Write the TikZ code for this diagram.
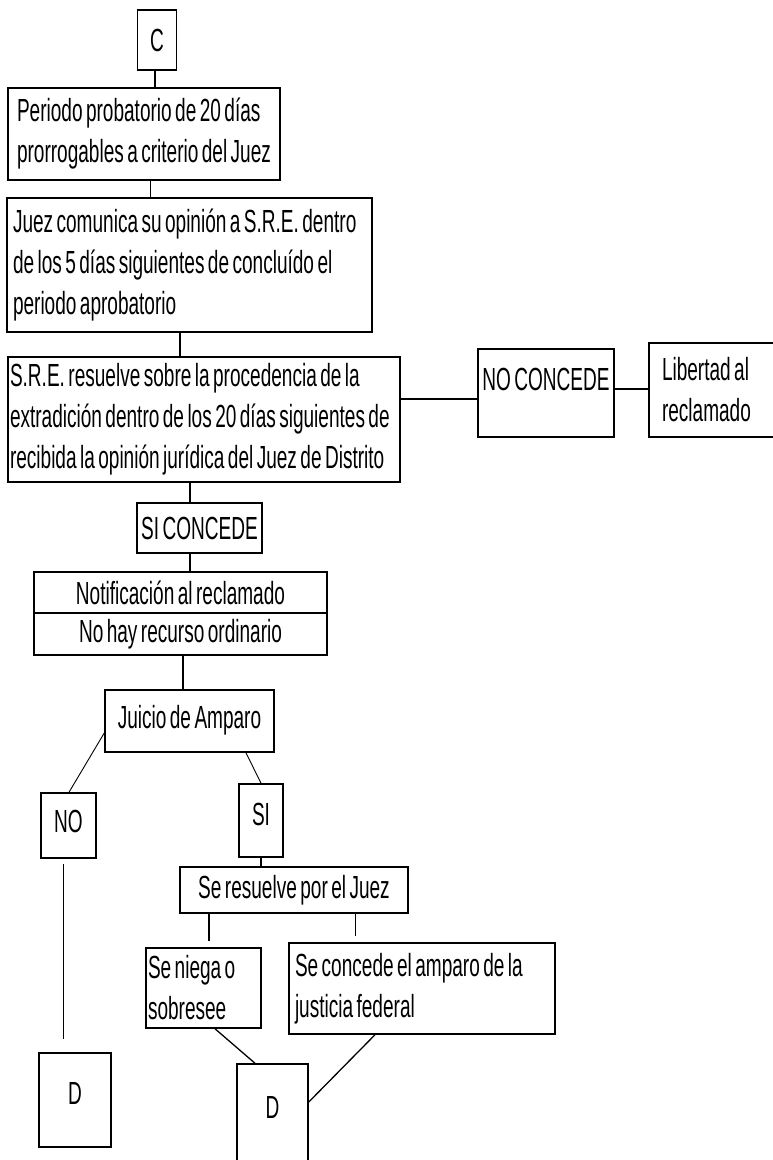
\documentclass[tikz,border=0pt]{standalone}
\usepackage{fontspec}
\newfontfamily\narrowfont{Liberation Sans}[FakeStretch=0.595, WordSpace=0.65]
\begin{document}
\begin{tikzpicture}[x=1pt,y=-1pt,
  box/.style={draw, line width=1.5pt, inner sep=0pt, rectangle,
    font=\narrowfont\fontsize{32}{41}\selectfont},
  lbox/.style={box, align=flush left,
    execute at begin node={\spaceskip=0pt\xspaceskip=0pt\hyphenpenalty=10000\relax}},
  cbox/.style={box, align=center},
  link/.style={line width=1.3pt},
  thin link/.style={line width=0.9pt}]
\clip (0,0) rectangle (773,1160);

% upper chain
\node[cbox, minimum width=39, minimum height=60] (C) at (157,40) {C};
\node[lbox, minimum width=272, minimum height=92, inner xsep=9, text width=254] (p1) at (144,134)
  {Periodo~probatorio~de~20~días\\prorrogables~a~criterio~del~Juez};
\node[lbox, minimum width=365, minimum height=134, inner xsep=6, text width=353] (p2) at (189.5,265)
  {Juez~comunica~su~opinión~a~S.R.E.~dentro\\de~los~5~días~siguientes~de~concluído~el\\periodo aprobatorio};
\node[lbox, minimum width=392, minimum height=125, inner xsep=2, text width=388] (p3) at (204,419.5)
  {S.R.E.~resuelve~sobre~la~procedencia~de~la\\extradición~dentro~de~los~20~días~siguientes~de\\recibida~la~opinión~jurídica~del~Juez~de~Distrito};

% refusal branch
\node[cbox, minimum width=136, minimum height=88, text height=23pt, text depth=28pt] (nc) at (546,393) {NO CONCEDE};
\node[lbox, minimum width=151, minimum height=94, inner xsep=13, text width=125] (lib) at (724.5,390)
  {Libertad al\\reclamado};

% grant branch
\node[cbox, minimum width=125, minimum height=50] (sic) at (199.5,528) {SI CONCEDE};
\node[cbox, minimum width=293, minimum height=41] (notif) at (180.5,592.5) {Notificación al reclamado};
\node[cbox, minimum width=293, minimum height=42] (rec) at (180.5,634) {No hay recurso ordinario};
\node[cbox, minimum width=169, minimum height=62, text height=23pt, text depth=8pt] (juicio) at (189.5,721) {Juicio de Amparo};
\node[cbox, minimum width=55, minimum height=65, text height=23pt, text depth=10pt] (no) at (68.5,825.5) {NO};
\node[cbox, minimum width=44, minimum height=73, text height=23pt, text depth=14pt] (si) at (261,820.5) {SI};
\node[cbox, minimum width=228, minimum height=46] (res) at (294,890) {Se resuelve por el Juez};
\node[lbox, minimum width=115, minimum height=80, inner xsep=2, text width=111] (niega) at (203.5,988)
  {Se niega o\\sobresee};
\node[lbox, minimum width=266, minimum height=91, inner xsep=6, text width=254] (conc) at (422,988.5)
  {Se~concede~el~amparo~de~la\\justicia federal};
\node[cbox, minimum width=72, minimum height=94, text height=23pt, text depth=14pt] (d1) at (75,1100) {D};
\node[cbox, minimum width=71, minimum height=136, text height=23pt, text depth=50pt] (d2) at (272.5,1132) {D};

% connectors
\draw[link] (C.south -| 155,0) -- (p1.north -| 155,0);
\draw[thin link] (p1.south -| 150,0) -- (p2.north -| 150,0);
\draw[link] (p2.south -| 180,0) -- (p3.north -| 180,0);
\draw[link] (p3.east |- 0,399) -- (nc.west |- 0,399);
\draw[link] (nc.east |- 0,389) -- (lib.west |- 0,389);
\draw[link] (p3.south -| 190,0) -- (sic.north -| 190,0);
\draw[link] (sic.south -| 190,0) -- (notif.north -| 190,0);
\draw[link] (rec.south -| 183,0) -- (juicio.north -| 183,0);
\draw[thin link] (juicio.west |- 0,733) -- (no.north -| 69,0);
\draw[thin link] (juicio.south -| 246,0) -- (si.north);
\draw[thin link, shorten <=5pt, shorten >=13pt] (no.south -| 63,0) -- (d1.north -| 63,0);
\draw[link] (si.south) -- (si.south |- res.north);
\draw[link, shorten >=6pt] (res.south -| 209,0) -- (niega.north -| 209,0);
\draw[thin link, shorten >=6pt] (res.south -| 355,0) -- (conc.north -| 355,0);
\draw[link] (niega.south -| 215,0) -- (d2.north -| 255,0);
\draw[link] (conc.south -| 375,0) -- (d2.east |- 0,1102);
\end{tikzpicture}
\end{document}
